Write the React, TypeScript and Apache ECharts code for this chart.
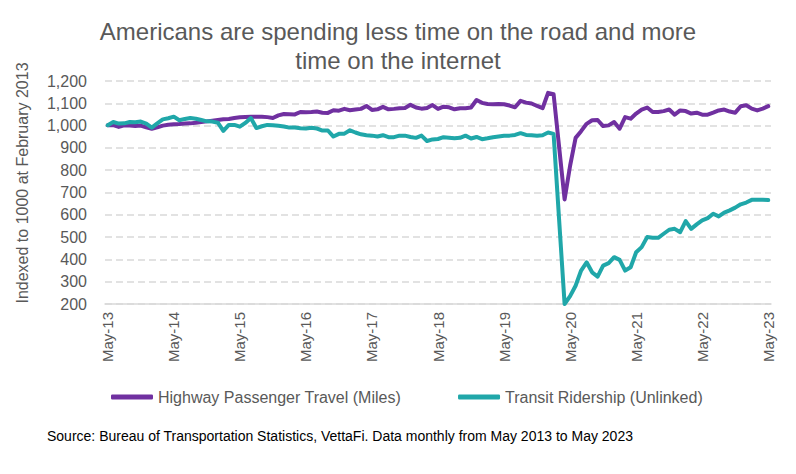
import React, { useEffect, useRef } from "react";
import * as echarts from "echarts";

const MONTHS = ["Jan", "Feb", "Mar", "Apr", "May", "Jun", "Jul", "Aug", "Sep", "Oct", "Nov", "Dec"];
const START_YEAR = 2013;
const START_MONTH = 4; // May
const MONTH_COUNT = 121;

const categories: string[] = [];
for (let k = 0; k < MONTH_COUNT; k++) {
  const m = (START_MONTH + k) % 12;
  const y = START_YEAR + Math.floor((START_MONTH + k) / 12);
  categories.push(`${MONTHS[m]}-${String(y).slice(2)}`);
}

const highwayName = "Highway Passenger Travel (Miles)";
const transitName = "Transit Ridership (Unlinked)";

const highway = [
  1002, 1002, 994, 1001, 1000, 998, 1000, 992, 986, 992, 1000, 1004,
  1006, 1007, 1009, 1010, 1013, 1016, 1019, 1022, 1025, 1028, 1030, 1034,
  1037, 1039, 1040, 1040, 1040, 1038, 1034, 1046, 1052, 1051, 1050, 1061,
  1060, 1061, 1063, 1058, 1057, 1069, 1067, 1075, 1069, 1072, 1075, 1088,
  1070, 1073, 1084, 1073, 1075, 1078, 1079, 1093, 1081, 1076, 1079, 1092,
  1075, 1085, 1082, 1073, 1078, 1078, 1081, 1115, 1102, 1097, 1096, 1097,
  1096, 1090, 1082, 1111, 1103, 1099, 1088, 1078, 1147, 1141, 905, 669,
  820, 945, 975, 1008, 1024, 1025, 998, 1001, 1016, 986, 1038, 1031,
  1054, 1072, 1081, 1061, 1061, 1065, 1072, 1049, 1068, 1065, 1054, 1058,
  1049, 1049, 1058, 1068, 1072, 1063, 1058, 1087, 1091, 1076, 1068, 1076,
  1087,
];

const transit = [
  1002, 1016, 1009, 1010, 1016, 1015, 1018, 1009, 991, 1010, 1028, 1033,
  1040, 1024, 1030, 1034, 1031, 1025, 1019, 1018, 1013, 976, 1003, 1003,
  995, 1012, 1034, 989, 997, 1003, 1002, 999, 996, 991, 991, 988,
  987, 990, 987, 978, 978, 951, 963, 964, 979, 969, 961, 957,
  955, 951, 957, 948, 948, 955, 955, 949, 945, 955, 931, 938,
  940, 948, 946, 943, 945, 955, 942, 949, 939, 943, 948, 951,
  954, 955, 958, 966, 958, 957, 955, 957, 969, 963, 580, 200,
  235, 282, 350, 387, 342, 323, 372, 383, 410, 398, 350, 365,
  432, 455, 500, 497, 497, 515, 533, 537, 522, 572, 537, 557,
  575, 585, 605, 593, 610, 620, 632, 647, 655, 667, 667, 667,
  666,
];

const titleText = "Americans are spending less time on the road and more\ntime on the internet";
const yAxisName = "Indexed to 1000 at February 2013";
const sourceText = "Source: Bureau of Transportation Statistics, VettaFi. Data monthly from May 2013 to May 2023";

const FONT = "'Liberation Sans', Arial, sans-serif";
const GREY = "#595959";
const PURPLE = "#7030A0";
const TEAL = "#20A7A9";

export default function App() {
  const ref = useRef<HTMLDivElement>(null);
  useEffect(() => {
    document.body.style.margin = "0";
    if (!ref.current) return;
    const chart = echarts.init(ref.current, null, { renderer: "svg" });
    chart.setOption({
      animation: false,
      textStyle: { fontFamily: FONT },
      title: {
        text: titleText,
        left: "center",
        top: 12,
        textStyle: { fontSize: 24, fontWeight: "normal", color: GREY, fontFamily: FONT, lineHeight: 29 },
      },
      grid: { left: 105, right: 25, top: 81, bottom: 170 },
      legend: {
        top: 384,
        left: 106,
        itemWidth: 42,
        itemHeight: 5,
        itemGap: 57,
        icon: "roundRect",
        textStyle: { fontSize: 16, color: GREY, fontFamily: FONT },
        data: [highwayName, transitName],
      },
      xAxis: {
        type: "category",
        data: categories,
        boundaryGap: true,
        axisLine: { lineStyle: { color: "#d9d9d9", width: 1.5 } },
        axisTick: { interval: 11, length: 5, lineStyle: { color: "#d9d9d9", width: 1.5 } },
        axisLabel: { interval: 11, rotate: 90, fontSize: 15, color: GREY, margin: 8, fontFamily: FONT },
        splitLine: { show: false },
      },
      yAxis: {
        type: "value",
        min: 200,
        max: 1200,
        interval: 100,
        axisLine: { show: false },
        axisTick: { show: false },
        axisLabel: {
          margin: 18,
          fontSize: 16,
          color: GREY,
          fontFamily: FONT,
          formatter: (v: number) => v.toLocaleString("en-US"),
        },
        splitLine: { lineStyle: { type: [7, 4], color: "#d9d9d9", width: 1.5 } },
      },
      series: [
        {
          name: highwayName,
          type: "line",
          data: highway,
          showSymbol: false,
          symbol: "none",
          color: PURPLE,
          lineStyle: { width: 4, color: PURPLE, join: "round", cap: "round" },
        },
        {
          name: transitName,
          type: "line",
          data: transit,
          showSymbol: false,
          symbol: "none",
          color: TEAL,
          lineStyle: { width: 4, color: TEAL, join: "round", cap: "round" },
        },
      ],
      graphic: [
        {
          type: "text",
          x: 22,
          y: 183,
          rotation: Math.PI / 2,
          style: {
            text: yAxisName,
            fontSize: 16,
            fill: GREY,
            fontFamily: FONT,
            align: "center",
            verticalAlign: "middle",
          },
        },
        {
          type: "text",
          left: 47,
          top: 429,
          style: { text: sourceText, fontSize: 14, fill: "#000", fontFamily: FONT },
        },
      ],
    });
    return () => chart.dispose();
  }, []);
  return <div ref={ref} style={{ width: 796, height: 474 }} />;
}
